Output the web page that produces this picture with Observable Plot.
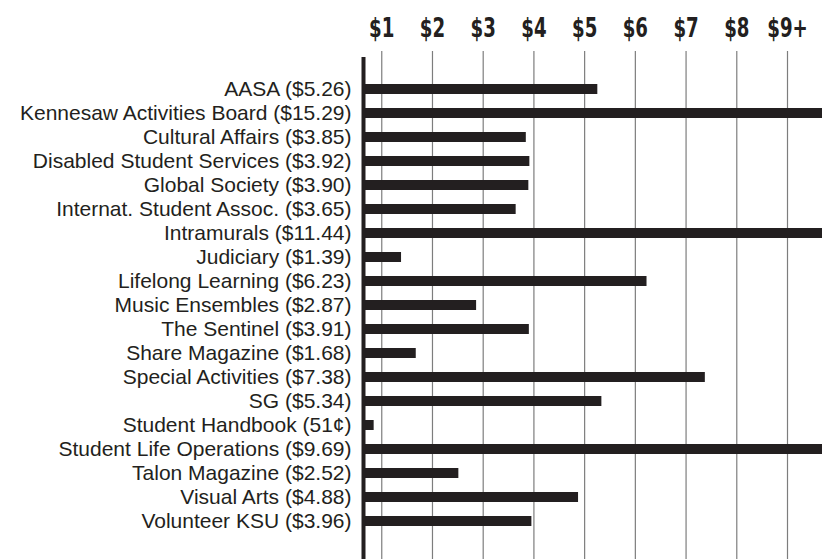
<!DOCTYPE html>
<html>
<head>
<meta charset="utf-8">
<script src="https://cdn.jsdelivr.net/npm/d3@7"></script>
<script src="https://cdn.jsdelivr.net/npm/@observablehq/plot@0.6"></script>
<style>
  html, body { margin: 0; padding: 0; background: #fff; }
  #chart svg { display: block; }
</style>
</head>
<body>
<div id="chart"></div>
<script>
const categories = [
  "AASA ($5.26)",
  "Kennesaw Activities Board ($15.29)",
  "Cultural Affairs ($3.85)",
  "Disabled Student Services ($3.92)",
  "Global Society ($3.90)",
  "Internat. Student Assoc. ($3.65)",
  "Intramurals ($11.44)",
  "Judiciary ($1.39)",
  "Lifelong Learning ($6.23)",
  "Music Ensembles ($2.87)",
  "The Sentinel ($3.91)",
  "Share Magazine ($1.68)",
  "Special Activities ($7.38)",
  "SG ($5.34)",
  "Student Handbook (51¢)",
  "Student Life Operations ($9.69)",
  "Talon Magazine ($2.52)",
  "Visual Arts ($4.88)",
  "Volunteer KSU ($3.96)"
];
const values = [5.26, 15.29, 3.85, 3.92, 3.90, 3.65, 11.44, 1.39, 6.23, 2.87, 3.91, 1.68, 7.38, 5.34, 0.51, 9.69, 2.52, 4.88, 3.96];
const tickValues = [1, 2, 3, 4, 5, 6, 7, 8, 9];
const tickLabels = ["$1", "$2", "$3", "$4", "$5", "$6", "$7", "$8", "$9+"];

const xMin = 0.64, xMax = 9.69, minVisible = 0.85;
const data = categories.map((c, i) => ({name: c, value: values[i]}));
const ink = "#231f20";

const chart = Plot.plot({
  width: 835,
  height: 559,
  marginLeft: 363,
  marginRight: 13,
  marginTop: 63,
  marginBottom: 12,
  style: {fontFamily: "'Liberation Sans', Arial, sans-serif", color: ink, background: "#fff"},
  x: {domain: [xMin, xMax], clamp: true, axis: null},
  y: {domain: categories, padding: 0.6, axis: null},
  marks: [
    Plot.ruleX(tickValues, {stroke: "#7d7d7d", strokeWidth: 1.2, insetTop: -12, insetBottom: -12}),
    Plot.barX(data, {y: "name", x1: xMin, x2: d => Math.max(d.value, minVisible), fill: ink}),
    Plot.ruleX([xMin], {stroke: ink, strokeWidth: 4, insetTop: -6, insetBottom: -12}),
    Plot.axisY({tickSize: 0, tickPadding: 12, fontSize: 21, fill: ink, textAnchor: "end", label: null}),
    Plot.axisX({
      anchor: "top", ticks: tickValues, tickSize: 0, tickPadding: 27, label: null,
      tickFormat: d => tickLabels[tickValues.indexOf(d)],
      fontSize: 26, fontWeight: "bold", fill: ink, stroke: ink, strokeWidth: 1,
      fontFamily: "'DejaVu Sans', sans-serif"
    })
  ]
});
document.getElementById("chart").append(chart);
// condense the top tick labels horizontally (Impact-like look)
d3.select(chart).selectAll("text")
  .filter(function() { return tickLabels.includes(this.textContent); })
  .each(function() {
    const t = d3.select(this);
    const x = +(t.attr("x") || 0), y = +(t.attr("y") || 0);
    const tr = t.attr("transform") || "";
    t.attr("transform", `${tr} translate(${x},${y}) scale(0.7,1) translate(${-x},${-y})`);
  });
</script>
</body>
</html>
